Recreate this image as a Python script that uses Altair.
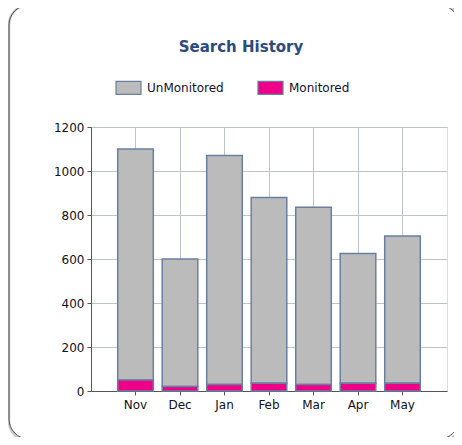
import altair as alt
import pandas as pd

months = ["Nov", "Dec", "Jan", "Feb", "Mar", "Apr", "May"]
unmonitored = [1050, 580, 1040, 845, 805, 590, 670]
monitored = [50, 20, 30, 35, 30, 35, 35]
series = ["UnMonitored", "Monitored"]
colors = ["#BBBBBB", "#EE0088"]
y_ticks = [0, 200, 400, 600, 800, 1000, 1200]

rows = []
for m, u, mo in zip(months, unmonitored, monitored):
    rows.append({"month": m, "series": "UnMonitored", "value": u, "order": 2})
    rows.append({"month": m, "series": "Monitored", "value": mo, "order": 1})
df = pd.DataFrame(rows)

FONT = "DejaVu Sans"
PL, PT = 83, 119

axis_common = dict(labelFont=FONT, labelFontSize=12, labelColor="#111122",
                   domainColor="#555555", tickColor="#555555",
                   gridColor="#BFC3CC", gridWidth=1, title=None)

bars = alt.Chart(df).mark_bar(stroke="#6A7FA0", strokeWidth=1.5).encode(
    x=alt.X("month:N", sort=months,
            scale=alt.Scale(paddingInner=0.2, paddingOuter=0.6),
            axis=alt.Axis(labelAngle=0, grid=True, bandPosition=0.5,
                          tickSize=4, labelPadding=4, **axis_common)),
    y=alt.Y("value:Q", stack="zero",
            scale=alt.Scale(domain=[0, 1200], nice=False),
            axis=alt.Axis(values=y_ticks, format="d", tickSize=4, labelPadding=3,
                          grid=True, **axis_common)),
    color=alt.Color("series:N", sort=series,
                    scale=alt.Scale(domain=series, range=colors),
                    legend=alt.Legend(title=None, orient="none", direction="horizontal",
                                      legendX=24, legendY=-53, padding=0,
                                      symbolType="M-1,-0.52H1V0.52H-1Z", symbolSize=625,
                                      symbolStrokeColor="#6A7FA0", symbolStrokeWidth=1.2,
                                      labelFont=FONT, labelFontSize=12, labelColor="#111133",
                                      labelOffset=5, columnPadding=31)),
    order=alt.Order("order:Q"),
)

frame_data = alt.Data(values=[{"k": 1}])
shadow = alt.Chart(frame_data).mark_rect(
    fillOpacity=0, stroke="#C8C8C8", strokeWidth=2.5, cornerRadius=20
).encode(
    x=alt.value(9 - 91), x2=alt.value(459 - 91 + 2),
    y=alt.value(5 - 127), y2=alt.value(439 - 127 + 2),
)
frame = alt.Chart(frame_data).mark_rect(
    fillOpacity=0, stroke="#555555", strokeWidth=1, cornerRadius=20
).encode(
    x=alt.value(9 - 91), x2=alt.value(459 - 91),
    y=alt.value(5 - 127), y2=alt.value(439 - 127),
)

chart = alt.layer(shadow, frame, bars).properties(
    width=356, height=264,
    autosize=alt.AutoSizeParams(type="none"),
    padding={"left": PL, "top": PT, "right": 7, "bottom": 46},
    title=alt.TitleParams("Search History", font=FONT, fontSize=15, fontWeight="bold",
                          color="#2B4A7E", dx=-28, offset=-51),
).configure_view(
    fill="#E8EEF8", stroke="#A0A4AC"
).configure(background="white")

chart.save("out.html", embed_options={"renderer": "svg", "actions": False})
